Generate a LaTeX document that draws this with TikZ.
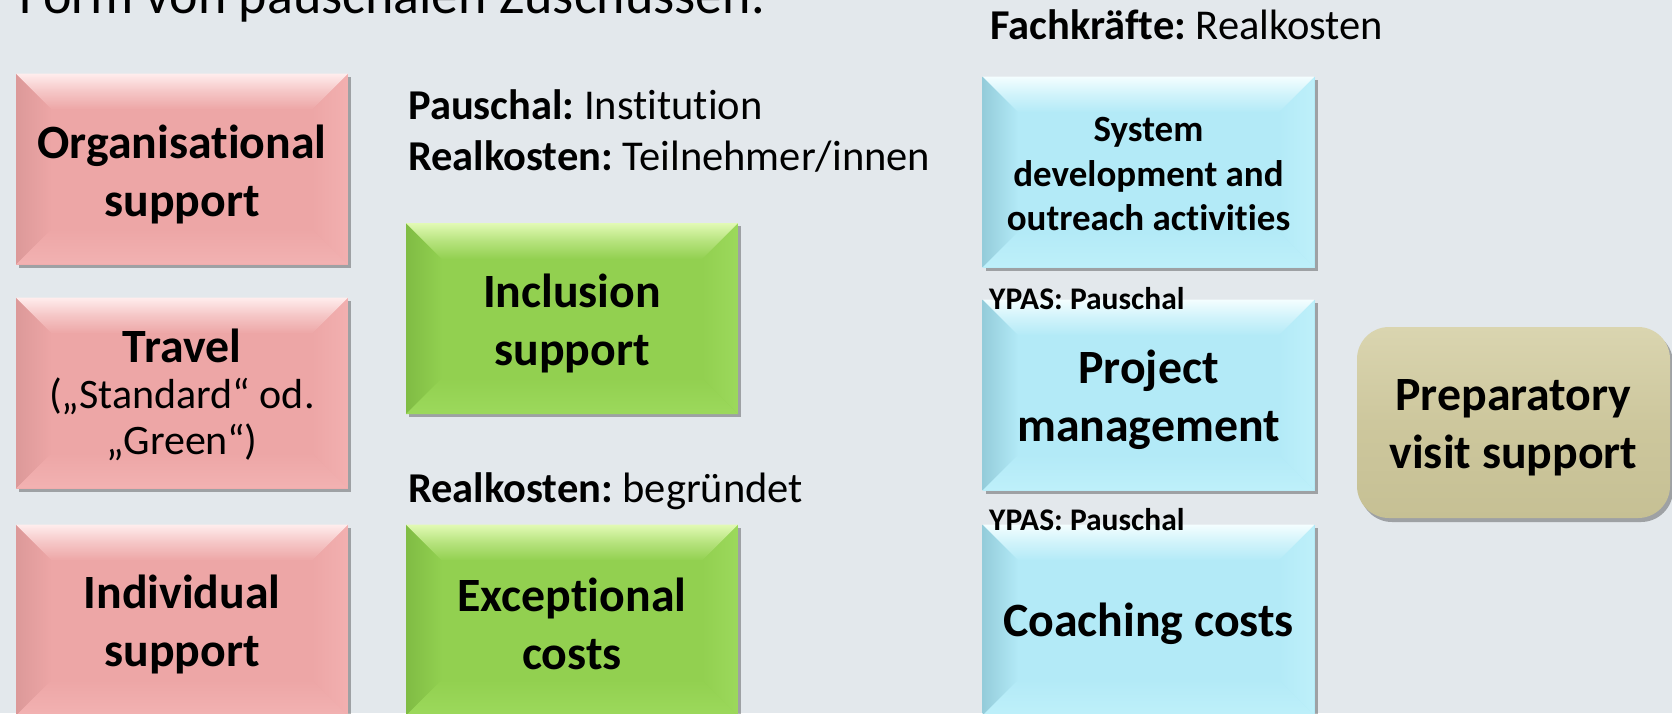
\documentclass[tikz,border=0pt]{standalone}
\usepackage{fontspec}
\setmainfont{Carlito}[Ligatures={TeX,NoCommon}]
\frenchspacing
\usetikzlibrary{shadows}
\definecolor{bg}{HTML}{E3E8EC}
\definecolor{pkbase}{HTML}{EDA6A6}
\definecolor{pktop}{HTML}{FFEDED}
\definecolor{pkleft}{HTML}{DC9999}
\definecolor{pkright}{HTML}{F2B0B0}
\definecolor{pkbot}{HTML}{F2B2B2}
\definecolor{grbase}{HTML}{92D050}
\definecolor{grtop}{HTML}{E2FAB5}
\definecolor{grleft}{HTML}{80BC44}
\definecolor{grright}{HTML}{9CD95C}
\definecolor{grbot}{HTML}{9CD95C}
\definecolor{blbase}{HTML}{B3EAF7}
\definecolor{bltop}{HTML}{F4FEFF}
\definecolor{blleft}{HTML}{94CCDA}
\definecolor{blright}{HTML}{BEF0FA}
\definecolor{blbot}{HTML}{BEF0FA}
\definecolor{tntop}{HTML}{DAD5B0}
\definecolor{tnmid}{HTML}{CDC79D}
\definecolor{tnbot}{HTML}{C6C094}
\newcommand\boxfont{\fontsize{47.8}{58}\selectfont\bfseries}
\newcommand\labfont{\fontsize{42.5}{51}\selectfont}
\tikzset{
  bev/.style n args={5}{
    rectangle, minimum width=332pt, minimum height=191pt, inner sep=0pt,
    fill=#1,
    drop shadow={shadow xshift=3pt, shadow yshift=-3pt, opacity=.3, fill=black},
    path picture={
      \def\bw{36pt}
      \path (path picture bounding box.north west) coordinate (pnw)
            (path picture bounding box.north east) coordinate (pne)
            (path picture bounding box.south west) coordinate (psw)
            (path picture bounding box.south east) coordinate (pse);
      \shade[left color=#3, right color=#1] (pnw) -- ([shift={(\bw,-\bw)}]pnw) -- ([shift={(\bw,\bw)}]psw) -- (psw) -- cycle;
      \shade[left color=#1, right color=#4] (pne) -- ([shift={(-\bw,-\bw)}]pne) -- ([shift={(-\bw,\bw)}]pse) -- (pse) -- cycle;
      \shade[top color=#1, bottom color=#5] (psw) -- ([shift={(\bw,\bw)}]psw) -- ([shift={(-\bw,\bw)}]pse) -- (pse) -- cycle;
      \shade[top color=#2, bottom color=#1, middle color=#2!45!#1] (pnw) -- (pne) -- ([shift={(-\bw,-\bw)}]pne) -- ([shift={(\bw,-\bw)}]pnw) -- cycle;
    }
  },
  pink/.style={bev={pkbase}{pktop}{pkleft}{pkright}{pkbot}},
  green/.style={bev={grbase}{grtop}{grleft}{grright}{grbot}},
  blue/.style={bev={blbase}{bltop}{blleft}{blright}{blbot}},
  tan/.style={rectangle, rounded corners=32pt, minimum width=313pt, minimum height=191pt,
    inner sep=0pt,
    top color=tntop, bottom color=tnbot, middle color=tnmid,
    drop shadow={shadow xshift=3pt, shadow yshift=-4pt, opacity=.3, fill=black}},
  btxt/.style={inner sep=0pt, align=center, font=\boxfont},
  lab/.style={anchor=base west, inner sep=0pt, font=\labfont},
  small/.style={anchor=base west, inner sep=0pt, font=\fontsize{31.5}{37}\selectfont\bfseries},
}
\begin{document}
\begin{tikzpicture}[x=1pt,y=-1pt]
\fill[bg] (0,0) rectangle (1672,713);
\useasboundingbox (0,0) rectangle (1672,713);
% boxes
\node[pink] (org) at (182,169) {};
\node[pink] (trav) at (182,393) {};
\node[pink] (ind) at (182,620) {};
\node[green] (incl) at (572,318.5) {};
\node[green] (exc) at (572,620) {};
\node[blue] (sys) at (1148.5,172) {};
\node[blue] (proj) at (1148.5,395) {};
\node[blue] (coach) at (1148.5,620) {};
\node[tan] (prep) at (1513.5,422.5) {};
% box texts
\node[btxt] (org-t) at ([yshift=-5pt]org.center) {Organisational\\support};
\node[btxt, font=\fontsize{42}{46}\selectfont] (trav-t) at ([yshift=-2pt]trav.center)
  {{\fontsize{47.8}{46}\selectfont\bfseries Travel}\\(„Standard“ od.\\„Green“)};
\node[btxt] (ind-t) at ([yshift=-4pt]ind.center) {Individual\\support};
\node[btxt] (incl-t) at ([yshift=-5pt]incl.center) {Inclusion\\support};
\node[btxt] (exc-t) at ([yshift=-4pt]exc.center) {Exceptional\\costs};
\node[btxt, font=\fontsize{37}{44.5}\selectfont\bfseries] (sys-t) at ([yshift=-2pt]sys.center)
  {System\\development and\\outreach activities};
\node[btxt] (proj-t) at ([yshift=-5pt]proj.center) {Project\\management};
\node[btxt] (coach-t) at ([yshift=-4pt]coach.center) {Coaching costs};
\node[btxt] (prep-t) at ([yshift=-5pt]prep.center) {Preparatory\\visit support};
% labels
\node[lab, font=\fontsize{54}{60}\selectfont] (title) at (19,13) {Form von pauschalen Zuschüssen.};
\node[lab] (l1) at (408,119.5) {\textbf{Pauschal:} Institution};
\node[lab] (l2) at (408,170.5) {\textbf{Realkosten:} Teilnehmer/innen};
\node[lab] (l3) at (408,502) {\textbf{Realkosten:} begründet};
\node[lab] (l4) at (990,39.5) {\textbf{Fachkräfte:} Realkosten};
\node[small] (y1) at (989,309) {YPAS: Pauschal};
\node[small] (y2) at (989,530) {YPAS: Pauschal};
\end{tikzpicture}
\end{document}
